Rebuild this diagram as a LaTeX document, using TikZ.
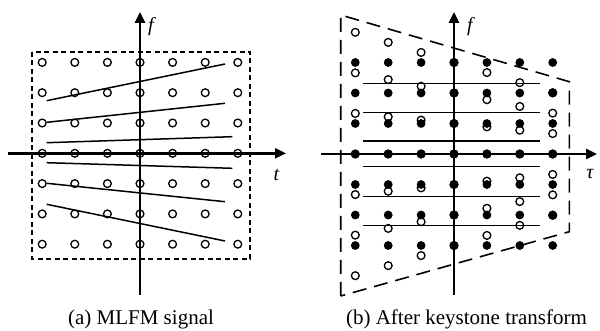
\documentclass[tikz,border=0pt]{standalone}
\usepackage{fontspec}
\setmainfont{Liberation Serif}
\usetikzlibrary{arrows.meta}
\begin{document}
\begin{tikzpicture}[x=1pt,y=-1pt,
  axisline/.style={line width=2.6pt,-{Triangle[length=11pt,width=10pt]}},
  opendot/.style={circle,draw,line width=1.3pt,minimum size=7.8pt,inner sep=0pt},
  filldot/.style={circle,fill=black,minimum size=8.8pt,inner sep=0pt},
  chirp/.style={line width=1.5pt},
  rectdash/.style={line width=1.4pt,dash pattern=on 5pt off 3.5pt},
  trapdash/.style={line width=1.6pt,dash pattern=on 14pt off 8pt},
  axlabel/.style={font=\fontsize{20}{22}\selectfont\itshape,inner sep=0pt},
  caption/.style={font=\fontsize{21}{24}\selectfont,inner sep=0pt,anchor=base}]
\useasboundingbox (0,0) rectangle (600,331);
% ---------- panel (a) ----------
\draw[rectdash] (32,52) rectangle (250,259);
\foreach \i in {1,...,7}{
  \foreach \j in {1,...,7}{
    \node[opendot] (a\i\j) at ({140+32.6*(\i-4)},{153.3+30.3*(\j-4)}) {};
  }
}
\coordinate (aL) at (8,153.3);
\coordinate (aR) at (286,153.3);
\coordinate (aB) at (140,295);
\coordinate (aT) at (140,12);
\draw[axisline] (aL) -- (aR);
\draw[axisline] (aB) -- (aT);
\coordinate (c1s) at (46.7,100.7); \coordinate (c1e) at (225,64);
\coordinate (c2s) at (46.7,122.3); \coordinate (c2e) at (225,103.3);
\coordinate (c3s) at (46.7,142.7); \coordinate (c3e) at (232.3,136.7);
\coordinate (c4s) at (46.7,162.7); \coordinate (c4e) at (232.3,168.3);
\coordinate (c5s) at (46.7,183.3); \coordinate (c5e) at (225,201.7);
\coordinate (c6s) at (46.7,204.3); \coordinate (c6e) at (225,241);
\foreach \k in {1,...,6}{ \draw[chirp] (c\k s) -- (c\k e); }
\node[axlabel] (fa) at (151,27) {f};
\node[axlabel] (ta) at (276.5,174.5) {t};
\node[caption] (capa) at (141,324) {(a) MLFM signal};
% ---------- panel (b) ----------
\coordinate (k1) at (340.7,15);
\coordinate (k2) at (569.3,81.7);
\coordinate (k3) at (569.3,231.7);
\coordinate (k4) at (340.7,296);
\draw[trapdash] (k4) -- (k1) -- (k2) -- (k3) -- (k4);
\foreach \i in {1,...,7}{
  \foreach \j in {1,...,7}{
    \node[opendot] (bo\i\j) at ({454+32.9*(\i-4)},{154+30.5*(\j-4)*(1-0.11*(\i-4))}) {};
  }
}
\foreach \i in {1,...,7}{
  \foreach \j in {1,...,7}{
    \node[filldot] (bf\i\j) at ({454+32.9*(\i-4)},{154+30.5*(\j-4)}) {};
  }
}
\coordinate (bL) at (320.7,154);
\coordinate (bR) at (597,154);
\coordinate (bB) at (454,295);
\coordinate (bT) at (454,12);
\draw[axisline] (bL) -- (bR);
\draw[axisline] (bB) -- (bT);
\foreach \k/\y in {1/83.3,2/112.3,3/141,4/166.7,5/196.7,6/225.7}{
  \coordinate (h\k s) at (363.3,\y);
  \coordinate (h\k e) at (540,\y);
  \draw[chirp] (h\k s) -- (h\k e);
}
\node[axlabel] (fb) at (470,27) {f};
\node[axlabel] (tb) at (590,174) {τ};
\node[caption] (capb) at (466.5,324) {(b) After keystone transform};
\end{tikzpicture}
\end{document}
